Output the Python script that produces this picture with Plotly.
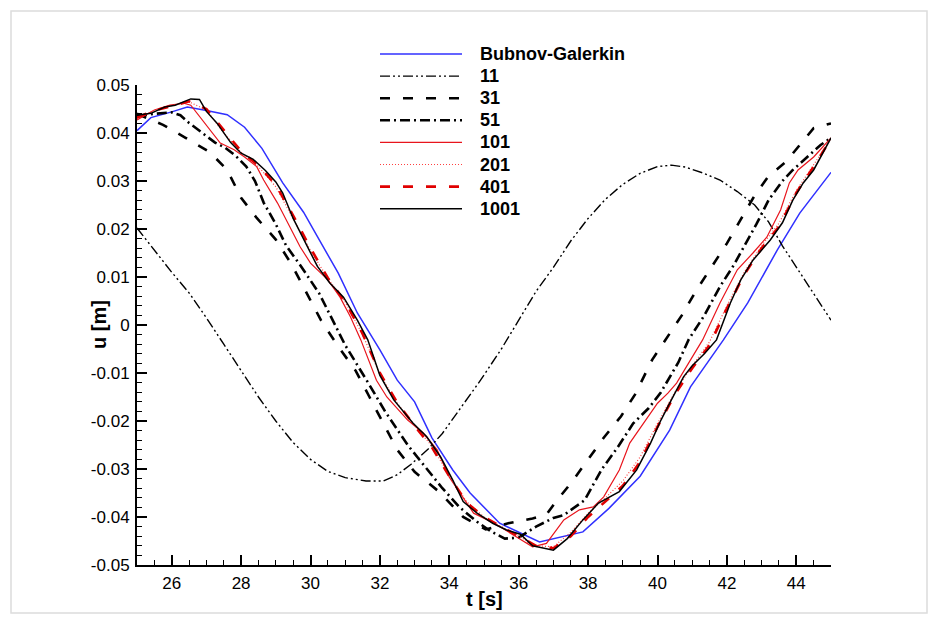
import plotly.graph_objects as go

# ---------------- data ----------------
bg_t = [25, 25.4, 26.0, 26.45, 27.0, 27.6, 28.1, 28.6, 29.2, 29.8, 30.2, 30.8, 31.35, 32.0, 32.5,
        33.0, 33.5, 34.1, 34.6, 35.45, 36.6, 37.85, 38.6, 39.5, 40.35, 40.95, 41.9, 42.6, 43.45, 44.1, 45.0]
bg_u = [0.0405, 0.0432, 0.0444, 0.0454, 0.0447, 0.0438, 0.0412, 0.0368, 0.0296, 0.0235, 0.0184, 0.0108,
        0.0025, -0.0052, -0.0115, -0.0160, -0.0235, -0.0302, -0.0350, -0.0413, -0.0452, -0.0431, -0.0382,
        -0.0315, -0.0219, -0.0129, -0.0031, 0.0046, 0.0156, 0.0233, 0.0318]

n11_t = [25, 25.5, 26.0, 26.5, 27.0, 27.5, 28.0, 28.5, 29.0, 29.5, 30.0, 30.5, 31.0, 31.6, 32.1, 32.5,
         32.9, 33.4, 33.8, 34.3, 34.9, 35.5, 36.0, 36.5, 37.0, 37.5, 38.0, 38.5, 39.0, 39.5, 40.0, 40.4,
         40.8, 41.3, 41.8, 42.3, 42.8, 43.2, 43.6, 44.0, 44.5, 45.0]
n11_u = [0.0202, 0.0155, 0.0110, 0.0067, 0.0015, -0.0040, -0.0095, -0.0150, -0.0200, -0.0245, -0.0280,
         -0.0305, -0.0318, -0.0325, -0.0325, -0.0312, -0.0290, -0.0258, -0.0226, -0.0175, -0.0115, -0.0050,
         0.0010, 0.0070, 0.0120, 0.0175, 0.0222, 0.0262, 0.0293, 0.0316, 0.0330, 0.0333, 0.0329, 0.0317,
         0.0302, 0.0278, 0.0250, 0.0215, 0.0165, 0.0120, 0.0065, 0.0010]

n31_t = [25, 25.45, 25.75, 26.4, 27.1, 27.6, 28.0, 28.45, 29.0, 29.45, 29.85, 30.3, 30.8, 31.3, 31.7,
         32.1, 32.5, 33.0, 33.7, 34.4, 35.05, 35.7, 36.4, 36.8, 37.05, 37.5, 38.0, 38.45, 38.95, 39.35,
         39.85, 40.2, 40.7, 41.1, 41.6, 42.0, 42.4, 42.8, 43.2, 43.7, 44.1, 44.5, 45.0]
n31_u = [0.0440, 0.0427, 0.0417, 0.0390, 0.0360, 0.0323, 0.0265, 0.0223, 0.0178, 0.0127, 0.0072, 0.0010,
         -0.0045, -0.0095, -0.0150, -0.0205, -0.0260, -0.0306, -0.0347, -0.0400, -0.0426, -0.0413,
         -0.0403, -0.0395, -0.0370, -0.0330, -0.0280, -0.0235, -0.0190, -0.0145, -0.0072, -0.0035,
         0.0020, 0.0070, 0.0125, 0.0170, 0.0220, 0.0270, 0.0310, 0.0340, 0.0375, 0.0410, 0.0420]

n51_t = [25, 25.5, 26.0, 26.25, 26.5, 26.95, 27.25, 27.55, 27.85, 28.15, 28.4, 28.65, 29.0, 29.3, 29.7,
         30.25, 30.65, 31.0, 31.7, 32.15, 32.8, 33.3, 33.8, 34.3, 34.8, 35.2, 35.6, 36.0, 36.5, 37.0,
         37.3, 37.9, 38.4, 38.85, 39.3, 39.75, 40.1, 40.6, 40.9, 41.35, 41.8, 42.2, 42.55, 42.85, 43.2,
         43.6, 43.9, 44.3, 44.7, 45.0]
n51_u = [0.0435, 0.0440, 0.0443, 0.0437, 0.0421, 0.0396, 0.0380, 0.0369, 0.0352, 0.0330, 0.0300, 0.0255,
         0.0210, 0.0165, 0.0125, 0.0066, 0.0010, -0.0042, -0.0125, -0.0180, -0.0250, -0.0295, -0.0340,
         -0.0380, -0.0410, -0.0430, -0.0445, -0.0443, -0.0420, -0.0402, -0.0396, -0.0365, -0.0300,
         -0.0255, -0.0205, -0.0173, -0.0140, -0.0078, -0.0030, 0.0020, 0.0080, 0.0125, 0.0170, 0.0210,
         0.0260, 0.0300, 0.0323, 0.0350, 0.0375, 0.0390]

n101_t = [25, 25.5, 25.95, 26.35, 26.55, 26.8, 27.1, 27.4, 27.8, 28.1, 28.45, 28.65, 29.05, 29.35, 29.7,
          30.0, 30.5, 30.85, 31.15, 31.45, 31.9, 32.2, 32.8, 33.25, 33.65, 34.0, 34.3, 34.7, 35.1, 35.45,
          35.95, 36.4, 36.8, 37.3, 37.75, 38.15, 38.45, 38.9, 39.2, 39.6, 40.0, 40.3, 40.55, 40.9, 41.3,
          41.8, 42.3, 42.75, 43.15, 43.55, 43.8, 44.05, 44.5, 45.0]
n101_u = [0.0427, 0.0448, 0.0458, 0.0462, 0.0458, 0.0434, 0.0406, 0.0379, 0.0365, 0.0350, 0.0330, 0.0302,
          0.0254, 0.0212, 0.0163, 0.0129, 0.0094, 0.0058, 0.0017, -0.0031, -0.0115, -0.0150, -0.0198,
          -0.0225, -0.0260, -0.0317, -0.0350, -0.0392, -0.0406, -0.0420, -0.0442, -0.0462, -0.0455,
          -0.0406, -0.0385, -0.0379, -0.0358, -0.0302, -0.0246, -0.0204, -0.0163, -0.0142, -0.0121,
          -0.0079, -0.0031, 0.0046, 0.0115, 0.0150, 0.0183, 0.0240, 0.0296, 0.0323, 0.0350, 0.0390]

grid_t = [25, 25.5, 26, 26.5, 27, 27.5, 28, 28.5, 29, 29.5, 30, 30.5, 31, 31.5, 32, 32.5, 33, 33.5, 34,
          34.5, 35, 35.5, 36, 36.5, 37, 37.5, 38, 38.5, 39, 39.5, 40, 40.5, 41, 41.5, 42, 42.5, 43, 43.5,
          44, 44.5, 45]
n201_u = [0.0430, 0.0447, 0.0457, 0.0465, 0.0448, 0.0400, 0.0360, 0.0330, 0.0288, 0.0222, 0.0155, 0.0097,
          0.0048, -0.0020, -0.0103, -0.0163, -0.0210, -0.0252, -0.0314, -0.0368, -0.0400, -0.0420,
          -0.0440, -0.0460, -0.0462, -0.0432, -0.0392, -0.0360, -0.0325, -0.0275, -0.0205, -0.0140,
          -0.0085, -0.0035, 0.0040, 0.0110, 0.0165, 0.0212, 0.0280, 0.0335, 0.0388]
n401_u = [0.0432, 0.0447, 0.0456, 0.0466, 0.0450, 0.0405, 0.0362, 0.0332, 0.0292, 0.0228, 0.0160, 0.0098,
          0.0048, -0.0018, -0.0100, -0.0162, -0.0210, -0.0255, -0.0315, -0.0370, -0.0400, -0.0420,
          -0.0440, -0.0460, -0.0465, -0.0440, -0.0400, -0.0368, -0.0335, -0.0285, -0.0212, -0.0145,
          -0.0090, -0.0042, 0.0035, 0.0105, 0.0160, 0.0205, 0.0275, 0.0330, 0.0388]

n1001_t = [25, 25.4, 25.8, 26.1, 26.55, 26.8, 27.0, 27.3, 27.7, 28.0, 28.35, 28.7, 29.0, 29.2, 29.5,
           29.9, 30.2, 30.55, 30.95, 31.35, 31.65, 32.0, 32.4, 32.95, 33.35, 33.75, 34.1, 34.4, 34.8,
           35.25, 35.65, 36.05, 36.4, 37.0, 37.4, 37.85, 38.3, 38.9, 39.4, 39.8, 40.1, 40.4, 40.75, 41.0,
           41.35, 41.7, 42.1, 42.4, 42.75, 43.25, 43.6, 43.9, 44.2, 44.5, 45.0]
n1001_u = [0.0437, 0.0441, 0.0454, 0.0458, 0.0471, 0.0470, 0.0445, 0.0421, 0.0380, 0.0358, 0.0345,
           0.0322, 0.0298, 0.0275, 0.0222, 0.0163, 0.0122, 0.0088, 0.0058, 0.0010, -0.0031, -0.0105,
           -0.0156, -0.0204, -0.0233, -0.0275, -0.0323, -0.0368, -0.0392, -0.0413, -0.0427, -0.0436,
           -0.0460, -0.0469, -0.0445, -0.0406, -0.0371, -0.0347, -0.0302, -0.0246, -0.0198, -0.0156,
           -0.0108, -0.0085, -0.0060, -0.0031, 0.0046, 0.0094, 0.0135, 0.0177, 0.0213, 0.0260, 0.0296,
           0.0323, 0.0390]

x_tickvals = [26, 28, 30, 32, 34, 36, 38, 40, 42, 44]
x_ticktext = ["26", "28", "30", "32", "34", "36", "38", "40", "42", "44"]
y_tickvals = [0.05, 0.04, 0.03, 0.02, 0.01, 0, -0.01, -0.02, -0.03, -0.04, -0.05]
y_ticktext = ["0.05", "0.04", "0.03", "0.02", "0.01", "0", "-0.01", "-0.02", "-0.03", "-0.04", "-0.05"]

series_names = ["Bubnov-Galerkin", "11", "31", "51", "101", "201", "401", "1001"]

# ---------------- styles ----------------
FONT = "Liberation Sans, Arial, sans-serif"
styles = {
    "Bubnov-Galerkin": dict(color="#3030ff", width=1.5, dash="solid"),
    "11": dict(color="black", width=1.4, dash="10px,3px,2px,3px,2px,3px"),
    "31": dict(color="black", width=2.6, dash="10px,13px"),
    "51": dict(color="black", width=2.6, dash="10px,4px,2px,4px"),
    "101": dict(color="#e8141c", width=1.2, dash="solid"),
    "201": dict(color="#ff4040", width=1.2, dash="1px,2px"),
    "401": dict(color="#e00000", width=2.6, dash="10px,13px"),
    "1001": dict(color="black", width=1.5, dash="solid"),
}
data_map = {
    "Bubnov-Galerkin": (bg_t, bg_u),
    "11": (n11_t, n11_u),
    "31": (n31_t, n31_u),
    "51": (n51_t, n51_u),
    "101": (n101_t, n101_u),
    "201": (grid_t, n201_u),
    "401": (grid_t, n401_u),
    "1001": (n1001_t, n1001_u),
}

fig = go.Figure()
for name in series_names:
    t, u = data_map[name]
    fig.add_trace(go.Scatter(x=t, y=u, mode="lines", name=name, showlegend=False,
                             line=styles[name]))

W, H = 939, 625
L, R, T, B = 137, 831, 85, 565
pw, ph = R - L, B - T


def px(x):
    return (x - L) / pw


def py(y):
    return (B - y) / ph


shapes = []
annotations = []
# manual legend
leg_x0, leg_x1, txt_x = 380, 462, 478
for i, name in enumerate(series_names):
    yy = 54 + 22.1 * i
    st = styles[name]
    shapes.append(dict(type="line", xref="paper", yref="paper", x0=px(leg_x0), x1=px(leg_x1),
                       y0=py(yy), y1=py(yy),
                       line=dict(color=st["color"], width=st["width"], dash=st["dash"])))
    annotations.append(dict(xref="paper", yref="paper", x=px(txt_x), y=py(yy), text="<b>%s</b>" % name,
                            showarrow=False, xanchor="left", yanchor="middle",
                            font=dict(family=FONT, size=18, color="black")))
# y-axis title
annotations.append(dict(xref="paper", yref="paper", x=px(99), y=py(325), text="<b>u [m]</b>",
                        showarrow=False, textangle=-90, xanchor="center", yanchor="middle",
                        font=dict(family=FONT, size=20, color="black")))
# x-axis title
annotations.append(dict(xref="paper", yref="paper", x=px(484), y=py(599), text="<b>t [s]</b>",
                        showarrow=False, xanchor="center", yanchor="middle",
                        font=dict(family=FONT, size=20, color="black")))
# light frame around picture
shapes.append(dict(type="rect", xref="paper", yref="paper", x0=px(11), x1=px(927), y0=py(613), y1=py(11),
                   line=dict(color="#dcdcdc", width=1.5), layer="below"))

fig.update_layout(
    width=W, height=H,
    margin=dict(l=L, r=W - R, t=T, b=H - B, pad=0),
    paper_bgcolor="white", plot_bgcolor="white",
    font=dict(family=FONT, size=17, color="black"),
    shapes=shapes, annotations=annotations,
)
fig.update_xaxes(range=[25, 45], showgrid=False, zeroline=False, showline=True, linecolor="black",
                 linewidth=2, mirror=False, ticks="inside", ticklen=10, tickwidth=2, tickcolor="black",
                 tickvals=x_tickvals, ticktext=x_ticktext, tickfont=dict(family=FONT, size=17),
                 ticklabelstandoff=2,
                 minor=dict(ticks="inside", ticklen=5, tickwidth=1, tickcolor="black", dtick=0.5, tick0=25))
fig.update_yaxes(range=[-0.05, 0.05], showgrid=False, zeroline=False, showline=True, linecolor="black",
                 linewidth=2, mirror=False, ticks="inside", ticklen=10, tickwidth=2, tickcolor="black",
                 tickvals=y_tickvals, ticktext=y_ticktext, tickfont=dict(family=FONT, size=17),
                 ticklabelstandoff=2,
                 minor=dict(ticks="inside", ticklen=5, tickwidth=1, tickcolor="black", dtick=0.002,
                            tick0=-0.05))

fig.write_html("out.html")
